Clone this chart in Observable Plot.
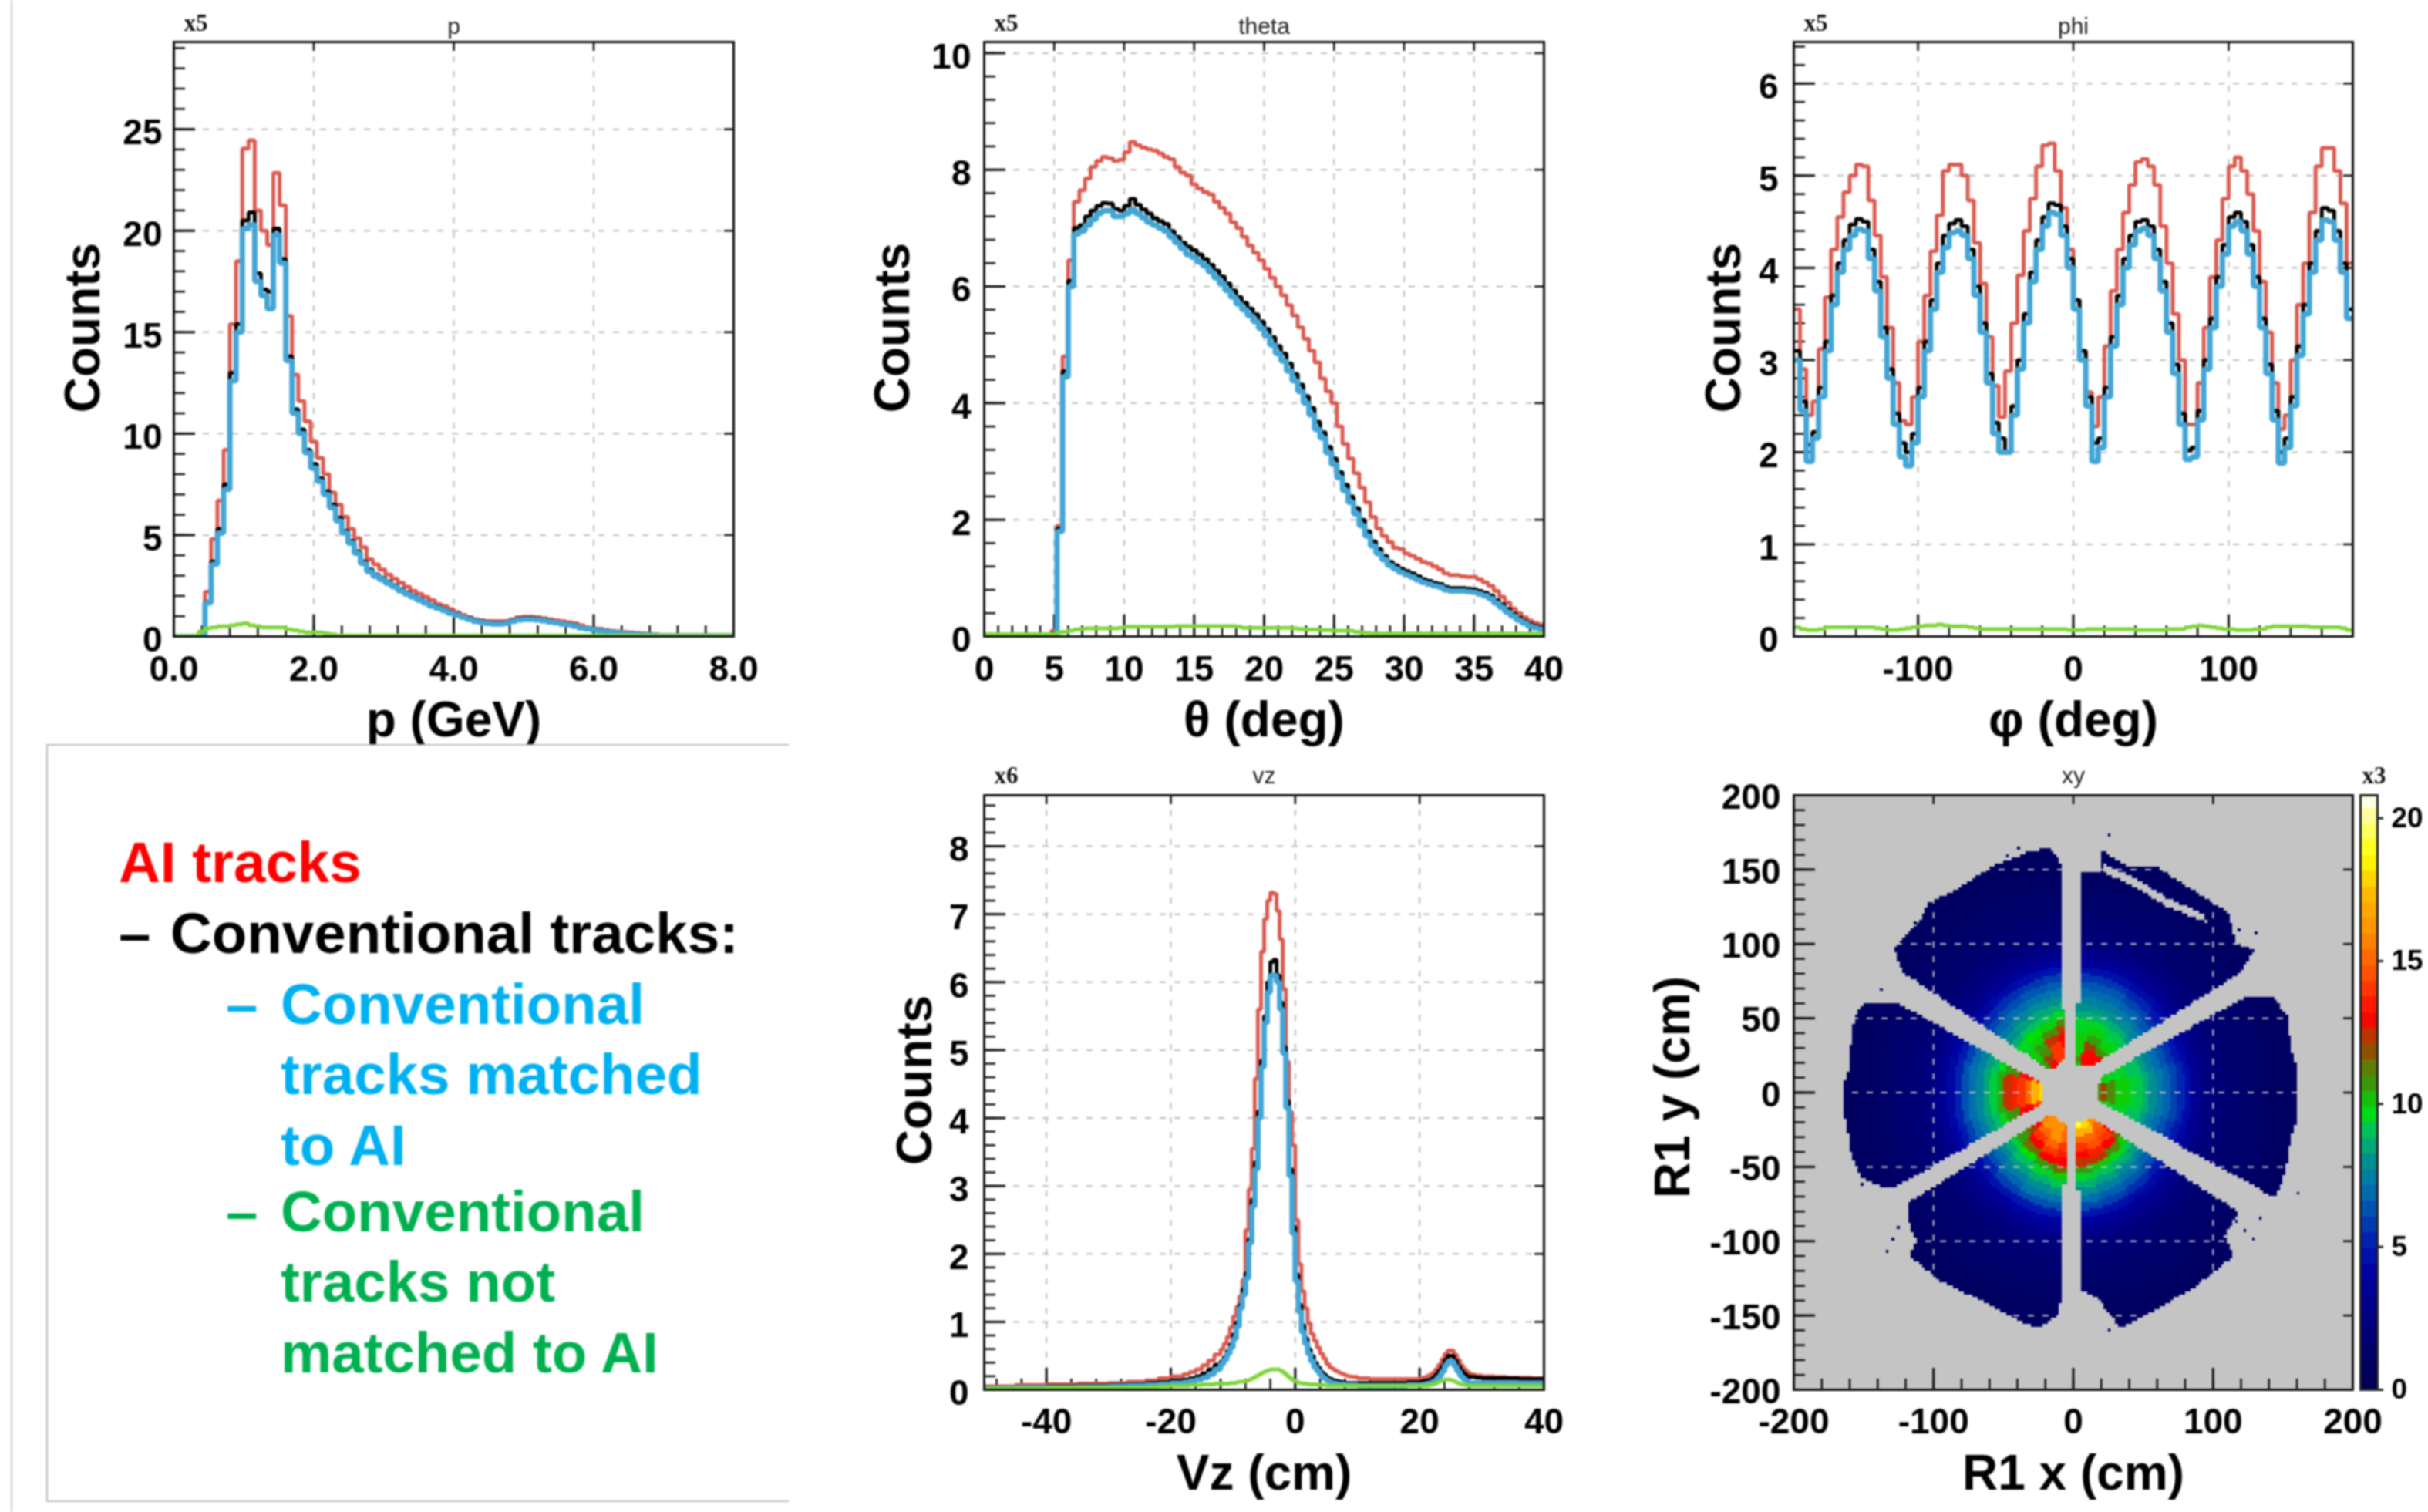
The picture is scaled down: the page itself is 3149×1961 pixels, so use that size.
<!DOCTYPE html>
<html><head><meta charset="utf-8">
<script src="https://cdn.jsdelivr.net/npm/d3@7"></script>
<script src="https://cdn.jsdelivr.net/npm/@observablehq/plot@0.6"></script>
<style>
html,body{margin:0;padding:0;background:#fff;width:3149px;height:1961px;overflow:hidden}
#root{position:absolute;left:0;top:0;width:3149px;height:1961px;filter:blur(1.1px)}
#root>svg,#root>figure{position:absolute;margin:0}
#edge{position:absolute;left:14px;top:0;width:2px;height:1961px;background:#c8c8c8}
#legend{position:absolute;left:60px;top:965px;width:961px;height:979px;background:#fff;border:2px solid #bdbdbd;border-right:none}
#legend span{position:absolute;font:bold 74.5px/1 "Liberation Sans",Arial,sans-serif;white-space:pre}
</style></head><body><div id="root"><div id="edge"></div></div>
<script>
// ---------- p (GeV): 90 bins over 0..8
const pRed=[0,0,0,0,.05,2.2,4.8,6.7,9.2,15.4,18.5,24.05,24.45,21,20,19.3,22.85,21.25,15.8,12.9,11.6,10.6,9.6,8.8,8,7.1,6.5,5.9,5.3,4.85,4.4,3.8,3.55,3.3,3.05,2.85,2.65,2.45,2.25,2.1,1.95,1.8,1.6,1.5,1.35,1.2,1.05,.95,.85,.8,.75,.75,.75,.75,.85,.95,.98,.98,.95,.9,.85,.8,.75,.7,.65,.55,.45,.4,.38,.32,.28,.25,.22,.2,.17,.15,.12,.1,.08,.07,.05,.05,.05,.05,.05,.05,.05,.05,.05,.05];
const pBlack=[0,0,0,0,.05,1.7,3.7,5.3,7.5,13,15.4,20.5,20.9,17.9,17.1,17,20.1,18.6,13.8,11.2,10.2,9.2,8.5,7.8,7.15,6.5,5.85,5.2,4.7,4.2,3.7,3.3,3.05,2.88,2.7,2.52,2.32,2.17,2,1.85,1.7,1.55,1.45,1.33,1.2,1.1,1,.9,.8,.75,.7,.67,.67,.7,.8,.87,.9,.9,.87,.83,.77,.72,.66,.62,.54,.45,.41,.36,.31,.28,.24,.2,.17,.14,.12,.1,.08,.06,.05,.05,.05,.05,.05,.05,.05,.05,.05,.05,.05,.05];
const pBlue=[0,0,0,0,.03,1.65,3.55,5.1,7.25,12.6,15,20.1,20.3,17.5,16.8,16.15,19.8,18.4,13.6,11,10,9.05,8.3,7.65,7,6.35,5.7,5.1,4.6,4.1,3.6,3.2,2.97,2.8,2.62,2.45,2.25,2.1,1.95,1.8,1.65,1.5,1.4,1.28,1.15,1.05,.95,.85,.75,.7,.65,.62,.62,.65,.75,.82,.85,.85,.82,.78,.72,.68,.62,.58,.5,.42,.38,.33,.28,.25,.22,.18,.15,.12,.1,.08,.07,.05,.04,.03,.03,.03,.03,.03,.03,.03,.03,.03,.03,.03];
const pGreen=[.02,.02,.02,.05,.25,.4,.45,.5,.5,.55,.6,.65,.55,.5,.45,.45,.45,.45,.35,.3,.25,.2,.2,.2,.15,.1,.06,.05,.05,.05,.05,.05,.05,.05,.05,.05,.05,.05,.05,.05,.05,.05,.05,.05,.05,.05,.05,.05,.05,.05,.05,.05,.05,.05,.05,.05,.05,.05,.05,.05,.05,.05,.05,.05,.05,.05,.05,.05,.05,.05,.05,.05,.05,.05,.05,.05,.05,.05,.05,.05,.05,.05,.05,.05,.05,.05,.05,.05,.05,.05];
// ---------- theta (deg): 100 bins over 0..40
const thetaRed=[.02,.02,.02,.02,.02,.02,.02,.02,.02,.02,.02,.02,.1,1.9,4.8,6.45,7.45,7.65,7.85,8.05,8.15,8.22,8.2,8.15,8.17,8.3,8.48,8.42,8.38,8.35,8.33,8.28,8.22,8.18,8.05,7.95,7.9,7.75,7.68,7.62,7.58,7.45,7.35,7.25,7.1,7,6.85,6.7,6.58,6.45,6.3,6.15,6,5.85,5.68,5.5,5.3,5.1,4.9,4.7,4.42,4.2,4,3.6,3.3,3.05,2.8,2.55,2.3,2.05,1.85,1.72,1.62,1.52,1.5,1.42,1.38,1.33,1.28,1.25,1.2,1.15,1.08,1.05,1.05,1.03,1.02,1.02,.98,.93,.87,.78,.68,.58,.48,.4,.33,.27,.23,.2];
const thetaBlack=[0,0,0,0,0,0,0,0,0,0,0,0,.05,1.85,4.55,6.1,7,7.05,7.2,7.3,7.38,7.43,7.42,7.33,7.3,7.38,7.5,7.4,7.32,7.25,7.17,7.12,7.07,6.95,6.85,6.75,6.68,6.62,6.55,6.47,6.37,6.27,6.17,6.05,5.93,5.82,5.72,5.62,5.52,5.4,5.27,5.13,4.98,4.85,4.68,4.5,4.32,4.12,3.92,3.68,3.5,3.25,3.05,2.82,2.6,2.4,2.2,2,1.8,1.63,1.5,1.38,1.28,1.22,1.16,1.12,1.08,1.03,.98,.95,.92,.9,.85,.83,.83,.83,.82,.81,.78,.75,.7,.62,.55,.47,.39,.32,.26,.21,.18,.16];
const thetaBlue=[0,0,0,0,0,0,0,0,0,0,0,0,.03,1.8,4.45,6,6.9,6.95,7.05,7.15,7.25,7.3,7.3,7.2,7.2,7.25,7.32,7.25,7.18,7.1,7.05,7,6.95,6.85,6.75,6.65,6.55,6.5,6.42,6.35,6.25,6.15,6.05,5.93,5.82,5.7,5.6,5.5,5.4,5.28,5.15,5,4.85,4.72,4.55,4.38,4.2,4,3.8,3.55,3.4,3.15,2.95,2.72,2.5,2.3,2.1,1.9,1.72,1.55,1.42,1.32,1.22,1.16,1.1,1.06,1.02,.97,.93,.9,.87,.85,.8,.78,.78,.78,.77,.76,.73,.7,.65,.57,.5,.42,.35,.28,.23,.18,.15,.13];
const thetaGreen=[.04,.04,.04,.04,.04,.04,.04,.04,.04,.04,.04,.04,.04,.07,.08,.1,.12,.13,.14,.14,.14,.14,.14,.14,.15,.17,.17,.17,.17,.17,.17,.17,.17,.17,.18,.18,.18,.18,.18,.18,.18,.18,.18,.18,.18,.17,.15,.15,.15,.15,.15,.15,.15,.15,.15,.14,.13,.12,.12,.12,.11,.11,.1,.1,.1,.1,.08,.07,.06,.05,.05,.05,.05,.05,.05,.05,.05,.05,.05,.05,.05,.05,.05,.05,.05,.05,.05,.05,.05,.05,.05,.05,.05,.05,.05,.05,.05,.05,.05,.05];
// ---------- phi (deg): 90 bins over -180..180
const phiRed=[3.55,2.9,2.4,2.55,3.12,3.68,4.2,4.55,4.82,5,5.12,5.1,4.73,4.35,3.9,3.35,2.75,2.34,2.3,2.6,3.2,3.7,4.18,4.57,5.05,5.12,5.12,5,4.73,4.27,3.83,3.25,2.72,2.38,2.88,3.4,3.92,4.4,4.75,5.1,5.33,5.35,5.05,4.65,4.2,3.65,3.1,2.65,2.28,2.6,3.15,3.75,4.2,4.6,4.9,5.15,5.18,5.1,4.9,4.45,4.05,3.5,3,2.3,2.3,2.75,3.35,3.9,4.3,4.75,5.1,5.2,5.05,4.8,4.4,3.85,3.3,2.75,2.25,2.4,3,3.6,4.05,4.6,5.1,5.3,5.3,5.05,4.7,4.05];
const phiBlack=[3.1,2.55,2.08,2.22,2.7,3.2,3.7,4.05,4.3,4.47,4.53,4.5,4.2,3.85,3.35,2.9,2.42,2.1,2,2.2,2.7,3.2,3.65,4.05,4.35,4.48,4.52,4.45,4.2,3.8,3.4,2.85,2.32,2.15,2,2.5,3,3.5,3.95,4.3,4.55,4.7,4.68,4.45,4.1,3.65,3.1,2.6,2.1,2.15,2.7,3.25,3.7,4.1,4.35,4.5,4.52,4.45,4.2,3.85,3.4,2.95,2.42,2.02,2.05,2.45,3,3.45,3.9,4.25,4.55,4.6,4.5,4.25,3.9,3.45,2.95,2.45,2,2.15,2.6,3.15,3.6,4.05,4.4,4.65,4.62,4.4,4.05,3.55];
const phiBlue=[3,2.45,1.9,2.15,2.6,3.1,3.6,3.95,4.2,4.35,4.42,4.4,4.1,3.75,3.25,2.8,2.3,1.95,1.85,2.1,2.6,3.1,3.55,3.95,4.22,4.38,4.4,4.35,4.1,3.7,3.3,2.75,2.2,2,2,2.4,2.9,3.4,3.85,4.2,4.45,4.6,4.58,4.35,4,3.55,3,2.5,1.9,2.05,2.6,3.15,3.6,4,4.25,4.4,4.43,4.35,4.1,3.75,3.3,2.85,2.3,1.92,1.95,2.35,2.9,3.35,3.8,4.15,4.45,4.5,4.4,4.15,3.8,3.35,2.85,2.35,1.88,2.05,2.5,3.05,3.5,3.95,4.3,4.52,4.5,4.3,3.95,3.45];
const phiGreen=[.1,.08,.07,.07,.08,.1,.1,.1,.1,.1,.1,.1,.1,.09,.08,.07,.07,.08,.09,.1,.11,.12,.12,.13,.12,.11,.11,.11,.1,.09,.08,.08,.08,.08,.08,.08,.08,.08,.08,.08,.08,.08,.08,.08,.07,.07,.07,.08,.08,.08,.08,.08,.08,.08,.08,.07,.07,.07,.07,.07,.08,.08,.08,.1,.11,.12,.11,.1,.09,.08,.08,.07,.07,.07,.08,.08,.1,.11,.11,.11,.11,.11,.11,.1,.1,.1,.1,.1,.09,.07];
// ---------- Vz (cm): bin edges, then values per bin
const vzEdges=[-50,-45,-40,-35,-30,-27,-24,-22,-20,-18,-17,-16,-15,-14,-13,-12,
 -11.5,-11,-10.5,-10,-9.5,-9,-8.5,-8,-7.5,-7,-6.5,-6,-5.5,-5,-4.5,-4,-3.5,-3,-2.5,-2,-1.5,-1,-.5,0,.5,1,1.5,2,2.5,3,3.5,4,4.5,5,5.5,6,6.5,7,7.5,8,8.5,9,
 10,12,14,16,18,20,
 20.5,21,21.5,22,22.5,23,23.5,24,24.5,25,25.5,26,26.5,27,27.5,28,28.5,29,
 30,32,34,36,38,40];
const vzRed=[.05,.07,.08,.09,.1,.12,.14,.17,.2,.23,.26,.3,.36,.43,.52,
 .6,.68,.78,.92,1.08,1.22,1.38,1.62,2.35,2.95,3.55,4.58,5.6,6.45,6.93,7.2,7.32,7.3,7.05,6.63,5.9,4.83,4.09,3.6,2.5,1.85,1.45,1.2,.98,.82,.72,.62,.53,.46,.38,.33,.3,.27,.25,.23,.21,.2,
 .19,.17,.16,.16,.16,.16,
 .17,.18,.2,.22,.25,.3,.37,.45,.53,.58,.58,.52,.44,.36,.3,.26,.23,.22,
 .21,.2,.19,.18,.18,.17];
const vzBlack=[.03,.04,.05,.06,.07,.08,.1,.11,.14,.15,.17,.2,.24,.3,.37,
 .42,.48,.57,.67,.82,1,1.25,1.48,1.72,2.22,2.8,3.35,4.1,4.85,5.5,6,6.3,6.33,6.1,5.7,5.05,4.25,3.25,2.4,1.7,1.25,.95,.76,.6,.5,.4,.33,.26,.22,.18,.16,.14,.13,.12,.11,.1,.1,
 .1,.1,.1,.1,.1,.11,
 .12,.13,.14,.15,.18,.22,.28,.35,.44,.5,.5,.43,.35,.28,.23,.2,.19,.19,
 .18,.17,.17,.17,.16,.16];
const vzBlue=[.02,.03,.03,.04,.05,.06,.07,.08,.1,.11,.13,.15,.18,.23,.3,
 .38,.44,.53,.62,.75,.93,1.2,1.4,1.64,2.16,2.7,3.25,4,4.75,5.4,5.85,6.1,6.1,6,5.6,4.95,4.15,3.15,2.3,1.6,1.15,.85,.68,.53,.42,.33,.27,.21,.17,.14,.11,.1,.09,.08,.08,.07,.07,
 .07,.06,.06,.06,.06,.07,
 .07,.08,.09,.1,.12,.15,.2,.27,.36,.42,.42,.35,.27,.2,.15,.12,.1,.1,
 .1,.1,.1,.1,.1,.1];
const vzGreen=[.02,.02,.03,.03,.03,.03,.04,.05,.06,.06,.07,.07,.08,.08,.09,
 .09,.09,.09,.1,.1,.11,.12,.12,.13,.15,.17,.2,.22,.25,.27,.29,.3,.3,.3,.28,.25,.21,.17,.14,.12,.1,.09,.09,.08,.08,.08,.07,.07,.07,.06,.06,.06,.06,.06,.06,.06,.06,
 .06,.06,.06,.06,.06,.06,
 .06,.06,.06,.07,.08,.1,.12,.14,.15,.15,.14,.12,.1,.08,.07,.06,.06,.06,
 .06,.06,.06,.06,.06,.06];
// ---------- R1 xy: sector outlines read in cm, and counts (x3) by radius and 15-degree angle slice starting at -30 deg
const xySectors=[
 [[19,-6],[19,6],[21,10.5],[104,54],[124,63.6],[144,63.6],[154,50],[156,27.5],[160,18],[161,-15],[156,-31],[152,-54],[145,-71],[135,-66]],
 [[13.6,17.7],[5.5,19],[2.6,19],[2.6,60],[5.5,60],[5.5,149],[19,147],[21,152],[19,163.6],[39,152],[59.6,152],[78,140.6],[111,121],[117,100],[130,96],[119,80]],
 [[-16,14.4],[-8,21],[-5,22],[-5,57],[-8,57],[-8,142],[-8.5,154],[-16,164],[-32,162],[-43,157],[-58,152],[-69,145],[-84,136],[-103,127.5],[-108,118],[-119,106],[-128,98],[-126,90],[-121,80]],
 [[-21,0],[-23,6],[-125,60],[-136,60],[-150,60],[-154,54],[-158,44],[-160,18],[-163,8],[-163,-18],[-158,-45],[-151,-58],[-136,-64],[-125,-63],[-21,-7]],
 [[-16,-15],[-8,-20],[-4,-22],[-4,-61],[-8,-61],[-8,-133],[-10,-150],[-25,-159],[-40,-153],[-66,-140],[-95,-127],[-117,-110],[-112,-100],[-119,-84],[-117,-74]],
 [[13.6,-17],[5.5,-20],[2.6,-21],[2.6,-66],[5.5,-66],[5.5,-133],[19,-140],[34,-159],[60,-146],[89,-130],[115,-110],[108,-97],[119,-81],[111,-76]]
];
const xyStripe=[[21,154],[45,144],[67,131],[93,120],[96,114],[67,125],[45,138],[22,148]];
const xyStrays=[[25,172],[-40,163],[-130,-100],[-134,-108],[128,-100],[133,-86],[160,-69],[130,106],[-138,68],[-152,-63],[25,-161],[122,-94],[116,-88],[-126,-92],[-124,96],[-114,113],[-48,158],[112,112],[118,108],[30,-155]];
const xyRadii=[0,20,25,30,35,40,45,50,55,60,65,70,75,80,85,90,95,100,105,110,120,130,140,150];
const xyCounts=[
[11,11,11,11, 11,12,11,10, 13,13,12,11, 16,18,18,16, 15,16,16,15, 18,18,16,14],
[10,12,12,10, 10,13,13,11, 13,14,13,11, 15,18,18,15, 15,16,16,15, 19,18,16,14],
[9.5,11,11,9.5, 10,13,13,10, 14,14,12,10.5, 14,17,17,14, 15,16,16,15, 17,17,15,14],
[9.5,10,10,9.5, 10,11,12,10, 13,14,11,10, 13,15,15,13, 13,15,16,15, 15,15,14.5,13],
[9.5,10,10,9.5, 9.5,10,10.5,10, 13,12.5,10.5,10, 13,14,14,13, 12,14,15,14, 14,14.5,14,13],
[9,9.5,9.5,9, 9.5,9.5,10,9.5, 12.5,11,10,9.5, 11,13.5,13.5,11, 11,13,14,13.5, 13,13.5,13,11.5],
[9,9.2,9.2,9, 9,9.2,9.5,9.5, 11,10,9.8,9.5, 10.5,12.5,12.5,10.5, 10.5,11.5,13,13, 12.5,12.5,11,10],
[8.2,8.6,8.6,8.2, 8.1,8.6,8.8,8.6, 9.6,9.2,9,8.6, 9.6,10.4,10.4,9.6, 9.4,9.8,10.6,11.6, 10.6,10.1,9.6,9.2],
[7.5,7.9,7.9,7.5, 7.5,7.9,8.1,8, 8.7,8.5,8.3,8, 8.9,9.3,9.3,8.9, 8.5,9,9.5,10, 9.5,9.1,8.7,8.3],
[6.9,7.3,7.3,6.9, 6.9,7.3,7.5,7.5, 8,7.9,7.7,7.3, 8.3,8.5,8.5,8.3, 7.7,8.3,8.7,9.1, 8.7,8.3,7.9,7.5],
[6.3,6.7,6.7,6.3, 6.3,6.7,6.9,6.9, 7.3,7.1,6.9,6.7, 7.5,7.7,7.7,7.5, 6.9,7.5,7.9,8.1, 7.9,7.5,7.1,6.7],
[5.6,6,6,5.6, 5.6,6,6.4,6.4, 6.6,6.4,6.2,6, 6.8,7,7,6.8, 6.2,6.8,7.2,7.2, 7,6.6,6.4,6],
[4.9,5.3,5.3,4.9, 4.9,5.3,5.7,5.7, 5.9,5.7,5.5,5.3, 5.9,6.3,6.3,5.9, 5.3,5.9,6.3,6.3, 6.1,5.9,5.5,5.1],
[4.2,4.4,4.4,4.2, 4.2,4.4,4.6,4.6, 4.8,4.6,4.4,4.2, 5,5.2,5.2,5, 4.4,4.8,5,5, 4.8,4.6,4.4,4.2],
[3.3,3.3,3.3,3.3, 3.3,3.5,3.7,3.7, 3.9,3.7,3.5,3.3, 4.1,4.3,4.3,4.1, 3.5,3.9,4.1,4.1, 3.9,3.7,3.5,3.3],
[2.7,2.7,2.7,2.7, 2.7,2.9,3,3, 3.1,3,2.9,2.7, 3.3,3.5,3.5,3.3, 2.9,3.1,3.3,3.3, 3.1,3,2.9,2.7],
[2.3,2.3,2.3,2.3, 2.3,2.4,2.5,2.5, 2.5,2.5,2.4,2.3, 2.7,2.9,2.9,2.7, 2.4,2.5,2.7,2.7, 2.5,2.5,2.4,2.3],
[2,2,2,2, 2,2.1,2.1,2.1, 2.1,2.1,2.1,2, 2.3,2.4,2.4,2.3, 2.1,2.1,2.3,2.3, 2.1,2.1,2.1,2],
[1.8,1.8,1.8,1.8, 1.8,1.8,1.9,1.9, 1.9,1.9,1.8,1.8, 2,2.1,2.1,2, 1.8,1.9,2,2, 1.9,1.9,1.8,1.8],
[1.5,1.5,1.5,1.5, 1.5,1.5,1.6,1.6, 1.6,1.6,1.5,1.5, 1.7,1.8,1.8,1.7, 1.5,1.6,1.7,1.7, 1.6,1.6,1.5,1.5],
[1.3,1.3,1.3,1.3, 1.3,1.3,1.3,1.3, 1.3,1.3,1.3,1.3, 1.5,1.5,1.5,1.5, 1.3,1.3,1.4,1.4, 1.3,1.3,1.3,1.3],
[1.1,1.1,1.1,1.1, 1.1,1.1,1.1,1.1, 1.1,1.1,1.1,1.1, 1.2,1.2,1.2,1.2, 1.1,1.1,1.1,1.1, 1.1,1.1,1.1,1.1],
[.9,.9,.9,.9, .9,.9,.9,.9, .9,.9,.9,.9, 1,1,1,1, .9,.9,.9,.9, .9,.9,.9,.9],
[.8,.8,.8,.8, .8,.8,.8,.8, .8,.8,.8,.8, .8,.8,.8,.8, .8,.8,.8,.8, .8,.8,.8,.8]
];
const colorStops=[0,4,5,7,8,9,9.8,10.5,11.5,12,12.5,13,14.5,16,17.5,18.6,20,20.8];
const colorRange=["#000050","#0000a0","#0018b0","#0070b0","#009090","#00c060","#00e000","#30a010","#707000","#a04000","#c83000","#ff0000","#ff5000","#ff9000","#ffc000","#ffff00","#ffff90","#ffffff"];
const colorTicks=[0,5,10,15,20];
const colorBins=d3.range(0,20.8,.55);
// ---------- colours
const cRed="#db5a50",cBlack="#000",cBlue="#42a5d5",cGreen="#7ed63a";
const FONT="Liberation Sans";
const root=document.getElementById("root");
const bold=(fontSize)=>({fontFamily:FONT,fontWeight:"bold",fontSize,fill:"#000"});

function hist(edges,vals){return edges.map((x,i)=>({x,y:vals[Math.min(i,vals.length-1)]}));}

function panel(o){
 const {L,R,T,B,xd,yd,xMajor,xMinor,yMajor,yMinor,xFmt,yFmt,title,mult,xl,yl,ylDx,ylDy,series,under=[],bg,grid="#bdbdbd",xPad=25,yPad=15,yDy=5}=o;
 const mL=175,mR=50,mT=50,mB=140,w=R-L,h=B-T;
 const xu=(xd[1]-xd[0])/w, yu=(yd[1]-yd[0])/h;
 const marks=[];
 if(bg) marks.push(Plot.frame({fill:bg,stroke:null}));
 marks.push(...under);
 const xg=xMajor.filter(v=>v>xd[0]&&v<xd[1]), yg=yMajor.filter(v=>v>yd[0]&&v<yd[1]);
 const grid1=[Plot.ruleX(xg,{stroke:grid,strokeWidth:2,strokeDasharray:"8,11"}),Plot.ruleY(yg,{stroke:grid,strokeWidth:2,strokeDasharray:"8,11"})];
 const ticks=[
  Plot.ruleX(xMinor,{y1:yd[0],y2:yd[0]+14*yu,stroke:"#111",strokeWidth:2.5}),
  Plot.ruleX(xMajor,{y1:yd[0],y2:yd[0]+28*yu,stroke:"#111",strokeWidth:3}),
  Plot.ruleX(xMajor,{y1:yd[1],y2:yd[1]-12*yu,stroke:"#111",strokeWidth:2.5}),
  Plot.ruleY(yMinor,{x1:xd[0],x2:xd[0]+15*xu,stroke:"#111",strokeWidth:2.5}),
  Plot.ruleY(yMajor,{x1:xd[0],x2:xd[0]+28*xu,stroke:"#111",strokeWidth:3}),
  Plot.ruleY(yMajor,{x1:xd[1],x2:xd[1]-12*xu,stroke:"#111",strokeWidth:2.5})
 ];
 marks.push(...grid1,...ticks);
 for(const s of series) marks.push(Plot.line(s.d,{x:"x",y:"y",curve:"step-after",stroke:s.c,strokeWidth:s.w,clip:true,strokeLinejoin:"miter"}));
 marks.push(Plot.frame({stroke:"#111",strokeWidth:3}));
 marks.push(Plot.axisX({anchor:"bottom",ticks:xMajor,tickFormat:xFmt,tickSize:0,tickPadding:xPad,label:null,...bold(46)}));
 marks.push(Plot.axisY({anchor:"left",ticks:yMajor,tickFormat:yFmt,tickSize:0,tickPadding:yPad,label:null,dy:yDy,...bold(46)}));
 marks.push(Plot.text([title],{frameAnchor:"top",dy:T<100?-11:-16,lineAnchor:"bottom",fontFamily:FONT,fontSize:30,fill:"#222"}));
 if(mult) marks.push(Plot.text([mult],{frameAnchor:"top-left",dx:13,dy:T<100?-15:-16,lineAnchor:"bottom",textAnchor:"start",fontFamily:"Liberation Serif",fontWeight:"bold",fontSize:31,fill:"#111"}));
 marks.push(Plot.text([xl],{frameAnchor:"bottom",dy:T<100?129:129,lineAnchor:"bottom",...bold(64)}));
 marks.push(Plot.text([yl],{frameAnchor:"left",dx:ylDx,dy:ylDy,rotate:-90,textAnchor:"middle",...bold(64)}));
 const el=Plot.plot({width:w+mL+mR,height:h+mT+mB,marginLeft:mL,marginRight:mR,marginTop:mT,marginBottom:mB,
  x:{domain:xd,label:null,axis:null},y:{domain:yd,label:null,axis:null},
  color:{type:"linear",domain:colorStops,range:colorRange,interpolate:"rgb",clamp:true},
  style:{overflow:"visible",background:"transparent",maxWidth:"none",fontFamily:FONT},marks});
 el.style.left=(L-mL)+"px";el.style.top=(T-mT)+"px";
 root.appendChild(el);
}
const rng=(a,b,s)=>{const n=Math.round((b-a)/s);return Array.from({length:n+1},(_,i)=>+(a+i*s).toFixed(6));};
const four=(r,k,b,g,E)=>[{d:hist(E,r),c:cRed,w:5},{d:hist(E,k),c:cBlack,w:5},{d:hist(E,b),c:cBlue,w:7},{d:hist(E,g),c:cGreen,w:5}];
const F1=d3.format(".1f"),S=d=>String(d);

panel({L:225,R:951,T:54,B:825,xd:[0,8],yd:[0,29.3],xMajor:rng(0,8,2),xMinor:rng(0,8,.4),yMajor:rng(0,25,5),yMinor:rng(0,29,1),xFmt:F1,yFmt:S,title:"p",mult:"x5",xl:"p (GeV)",yl:"Counts",ylDx:-117,ylDy:-15,
 series:four(pRed,pBlack,pBlue,pGreen,rng(0,90,1).map(i=>i*8/90))});
panel({L:1276,R:2002,T:54,B:825,xd:[0,40],yd:[0,10.19],xMajor:rng(0,40,5),xMinor:rng(0,40,1),yMajor:rng(0,10,2),yMinor:rng(0,10,.4),xFmt:S,yFmt:S,title:"theta",mult:"x5",xl:"θ (deg)",yl:"Counts",ylDx:-118,ylDy:-15,yPad:17,
 series:four(thetaRed,thetaBlack,thetaBlue,thetaGreen,rng(0,100,1).map(i=>i*.4))});
panel({L:2326,R:3051,T:54,B:825,xd:[-180,180],yd:[0,6.45],xMajor:[-100,0,100],xMinor:rng(-180,180,20),yMajor:rng(0,6,1),yMinor:rng(0,6.4,.2),xFmt:S,yFmt:S,title:"phi",mult:"x5",xl:"φ (deg)",yl:"Counts",ylDx:-90,ylDy:-15,yPad:20,
 series:four(phiRed,phiBlack,phiBlue,phiGreen,rng(0,90,1).map(i=>-180+i*4))});
panel({L:1276,R:2002,T:1031,B:1802,xd:[-50,40],yd:[0,8.75],xMajor:rng(-40,40,20),xMinor:rng(-48,40,4),yMajor:rng(0,8,1),yMinor:rng(0,8.6,.2),xFmt:S,yFmt:S,title:"vz",mult:"x6",xl:"Vz (cm)",yl:"Counts",ylDx:-89,ylDy:-16,xPad:24,yPad:20,
 series:four(vzRed,vzBlack,vzBlue,vzGreen,vzEdges)});

// heat map cells
const cells=[];
const CELL=2;
function lookup(x,y){
 const r=Math.hypot(x,y);
 const ri=Math.max(0,d3.bisectRight(xyRadii,r)-1);
 let a=Math.atan2(y,x)*180/Math.PI+30; if(a<0)a+=360;
 return xyCounts[ri][Math.min(23,Math.floor(a/15))];
}
for(let x=-170;x<170;x+=CELL)for(let y=-170;y<170;y+=CELL){
 const p=[x+CELL/2,y+CELL/2];
 if(d3.polygonContains(xyStripe,p))continue;
 if(xySectors.some(s=>d3.polygonContains(s,p))) cells.push({x,y,v:lookup(p[0],p[1])});
}
for(const [x,y] of xyStrays) cells.push({x,y,v:1});
panel({L:2326,R:3051,T:1031,B:1802,xd:[-200,200],yd:[-200,200],xMajor:rng(-200,200,100),xMinor:rng(-200,200,20),yMajor:rng(-200,200,50),yMinor:rng(-200,200,10),xFmt:S,yFmt:S,title:"xy",xl:"R1 x (cm)",yl:"R1 y (cm)",ylDx:-156,ylDy:-7,xPad:24,yPad:17,yDy:3,bg:"#c4c4c4",grid:"#c4c4c4",series:[],
 under:[Plot.rect(cells,{x1:"x",x2:d=>d.x+CELL,y1:"y",y2:d=>d.y+CELL,fill:"v",shapeRendering:"crispEdges"})]});

// colour bar
const cb=Plot.plot({width:88,height:771+50,marginLeft:0,marginRight:66,marginTop:30,marginBottom:20,
 x:{domain:[0,1],axis:null},y:{domain:[0,20.8],axis:null},
 color:{type:"linear",domain:colorStops,range:colorRange,interpolate:"rgb",clamp:true},
 style:{overflow:"visible",background:"transparent",maxWidth:"none",fontFamily:FONT},
 marks:[
  Plot.rect(colorBins,{x1:0,x2:1,y1:d=>d,y2:d=>Math.min(d+.55,20.8),fill:d=>d+.27,shapeRendering:"crispEdges"}),
  Plot.frame({stroke:"#222",strokeWidth:3}),
  Plot.axisY({anchor:"right",ticks:colorTicks,tickFormat:S,tickSize:7,tickPadding:11,label:null,stroke:"#222",strokeWidth:3,textAnchor:"start",...bold(37)}),
  Plot.text(["x3"],{frameAnchor:"top-left",dx:2,dy:-16,lineAnchor:"bottom",textAnchor:"start",fontFamily:"Liberation Serif",fontWeight:"bold",fontSize:31,fill:"#111"})
 ]});
cb.style.left="3061px";cb.style.top=(1031-30)+"px";root.appendChild(cb);

// legend text
const legendLines=[
 ["AI tracks",154,1145,"#ff0000"],["–",154,1237,"#000"],["Conventional tracks:",221,1237,"#000"],
 ["–",293,1329,"#00b0f0"],["Conventional",364,1329,"#00b0f0"],["tracks matched",364,1420,"#00b0f0"],["to AI",364,1512,"#00b0f0"],
 ["–",293,1598,"#00b050"],["Conventional",364,1598,"#00b050"],["tracks not",364,1689,"#00b050"],["matched to AI",364,1781,"#00b050"]];
const leg=document.createElement("div");leg.id="legend";root.appendChild(leg);
for(const [t,x,y,c] of legendLines){const s=document.createElement("span");s.textContent=t;s.style.left=(x-62)+"px";s.style.top=(y-63-967)+"px";s.style.color=c;leg.appendChild(s);}
</script></body></html>
